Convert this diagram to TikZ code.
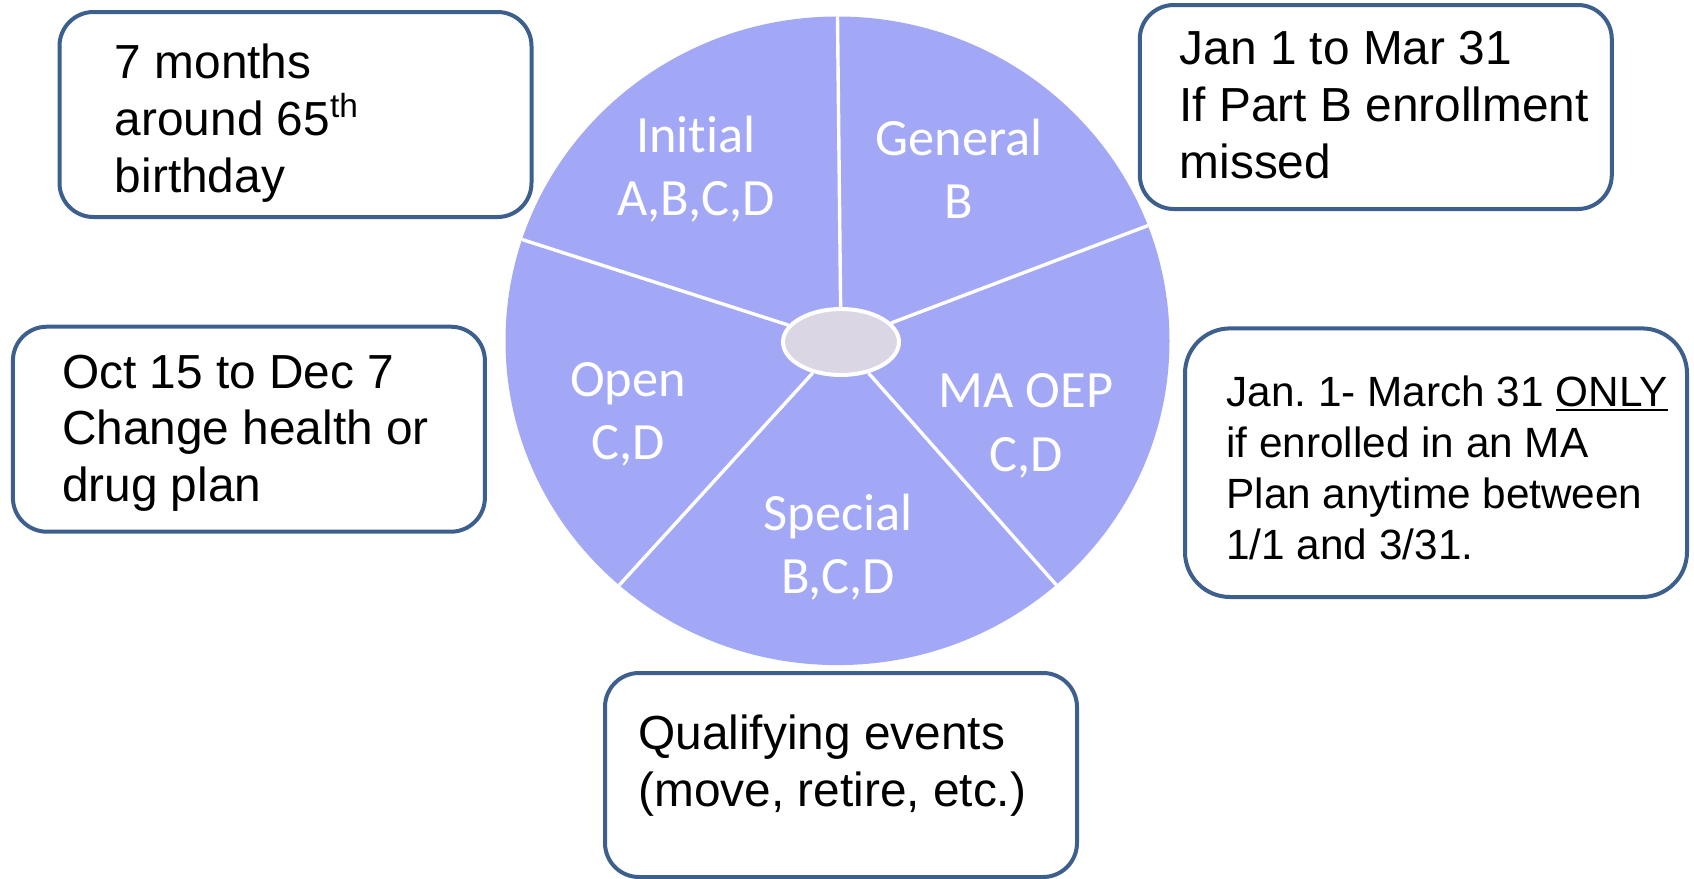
\documentclass[tikz,border=0pt]{standalone}
\usepackage{fontspec}
\setmainfont{Liberation Sans}
\newfontfamily\slicefont[Ligatures={NoCommon,NoContextual}]{Carlito}
\usetikzlibrary{shapes.geometric}
\definecolor{pieblue}{HTML}{A2A8F6}
\definecolor{hubgray}{HTML}{DAD6E4}
\definecolor{boxblue}{HTML}{3C5F8D}
\newcommand\thickul[1]{\setbox0\hbox{#1}\rlap{\rule[-2.4pt]{\wd0}{1.3pt}}\box0}
\frenchspacing
\begin{document}
\begin{tikzpicture}[x=0.5pt,y=-0.5pt,
  infobox/.style={draw=boxblue, line width=2pt, fill=white, rounded corners=17pt, inner sep=0pt},
  boxtext/.style={anchor=base west, align=left, inner sep=0pt, font=\frenchspacing\fontsize{23.9}{28.35}\selectfont},
  smalltext/.style={anchor=base west, align=left, inner sep=0pt, font=\frenchspacing\fontsize{21.15}{25.5}\selectfont},
  slicetext/.style={anchor=base, align=center, inner sep=0pt, text=white, font=\slicefont\fontsize{26.2}{31.75}\selectfont},
  spoke/.style={white, line width=1.7pt},
  hubstyle/.style={ellipse, draw=white, line width=2pt, fill=hubgray, minimum width=58pt, minimum height=33pt, inner sep=0pt}]
\useasboundingbox (0,0) rectangle (1694,879);

% pie
\fill[pieblue] (837.5,340.8) ellipse [x radius=332, y radius=324.3];
\node[hubstyle] (hub) at (841,342) {};
\coordinate (o1) at (837.5,16.5);
\coordinate (o2) at (1147.9,225.6);
\coordinate (o3) at (1056.2,584.8);
\coordinate (o4) at (619.2,585.2);
\coordinate (o5) at (522.1,239.5);
\foreach \p in {o1,o2,o3,o4,o5} \draw[spoke] (\p) -- (hub);

% slice labels (anchored at the baseline of the last line)
\node[slicetext] (sInitial) at (696,215.6) {Initial\\A,B,C,D};
\node[slicetext] (sGeneral) at (959,218.8) {General\\B};
\node[slicetext] (sOpen) at (628,459.8) {Open\\C,D};
\node[slicetext] (sMA) at (1026,471) {MA OEP\\C,D};
\node[slicetext] (sSpecial) at (838,593.8) {Special\\B,C,D};

% boxes
\node[infobox, minimum width=236pt, minimum height=102.5pt] (b1) at (295.5,114.5) {};
\node[boxtext] (t1) at (114.5,192.3) {7 months\\around 65\textsuperscript{th}\\birthday};

\node[infobox, minimum width=236pt, minimum height=102pt] (b2) at (1375.8,107) {};
\node[boxtext] (t2) at (1179.3,178) {Jan 1 to Mar 31\\If Part B enrollment\\missed};

\node[infobox, minimum width=236pt, minimum height=102.5pt] (b3) at (248.9,429.2) {};
\node[boxtext] (t3) at (61.7,501.5) {Oct 15 to Dec 7\\Change health or\\drug plan};

\node[infobox, rounded corners=22.5pt, minimum width=251pt, minimum height=134.3pt] (b4) at (1436,462.7) {};
\node[smalltext] (t4) at (1226,559.5) {Jan. 1- March 31 \thickul{ONLY}\\if enrolled in an MA\\Plan anytime between\\1/1 and 3/31.};

\node[infobox, minimum width=236pt, minimum height=102pt] (b5) at (841,775) {};
\node[boxtext] (t5) at (638,806) {Qualifying events\\(move, retire, etc.)};
\end{tikzpicture}
\end{document}
